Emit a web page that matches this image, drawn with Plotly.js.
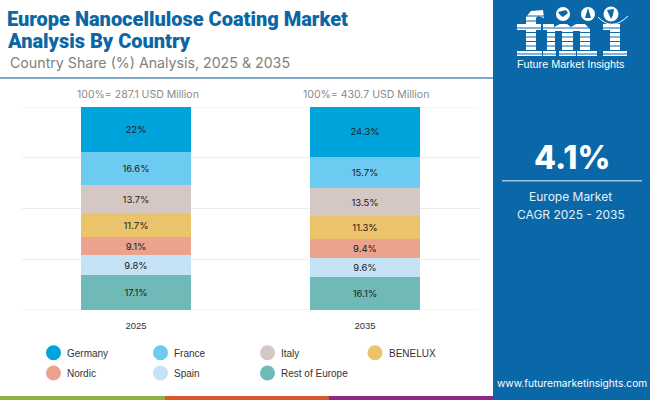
<!DOCTYPE html>
<html><head><meta charset="utf-8"><script src="https://cdn.plot.ly/plotly-3.0.1.min.js"></script>
<style>html,body{margin:0;padding:0;background:#fff}#c{width:650px;height:400px}</style></head>
<body><div id="c"></div>
<script>
const years = ['2025','2035'];
const countries = ['Germany','France','Italy','BENELUX','Nordic','Spain','Rest of Europe'];
const germany = [22,24.3];
const france = [16.6,15.7];
const italy = [13.7,13.5];
const benelux = [11.7,11.3];
const nordic = [9.1,9.4];
const spain = [9.8,9.6];
const rest = [17.1,16.1];
const colors = ['#00A4DC','#6DCBF2','#D5C8C4','#EBC36B','#EBA38E','#C5E3F5','#6FBAB6'];
const totals = ['100%= 287.1 USD Million','100%= 430.7 USD Million'];
const seriesValues = [germany,france,italy,benelux,nordic,spain,rest];
const SANS = 'Inter, "Open Sans", sans-serif';
const HEAVY = 'Roboto, Inter, sans-serif';
const ARIAL = '"Liberation Sans",Arial,sans-serif';
const fmt = v => v + '%';

const traces = [];
for (let i = seriesValues.length-1; i >= 0; i--) {
  traces.push({type:'bar',x:years,y:seriesValues[i],name:countries[i],width:0.48,showlegend:false,
    marker:{color:colors[i],line:{width:0}},text:seriesValues[i].map(fmt),textposition:'inside',insidetextanchor:'middle',
    textangle:0,constraintext:'none',textfont:{family:SANS,size:9.5,color:'#1a1a1a'},hoverinfo:'name+y'});
}

const px = (x)=>x/650, py=(y)=>1-y/400;
const P = (x0,y0,x1,y1,fill)=>({type:'rect',xref:'paper',yref:'paper',x0:px(x0),x1:px(x1),y0:py(y0),y1:py(y1),fillcolor:fill,line:{width:0},layer:'below'});
const shapes = [
  P(493,0,650,400,'#0A68A8'),
  P(0,396,165,400,'#8DB33F'),P(165,396,329,400,'#D9552B'),P(329,396,493,400,'#8A2C85'),
  P(0,77,493,79,'#7FA8C9'),
  P(502,180,642,181.5,'#9CC3E0')
];
[0,100].forEach(v=>shapes.push({type:'line',xref:'paper',yref:'y',x0:px(21.5),x1:px(479.5),y0:v,y1:v,line:{color:'#EDEDED',width:1},layer:'below'}));
function path(d,fill){return {type:'path',xref:'paper',yref:'paper',path:d,fillcolor:fill,line:{width:0},layer:'above'};}
const pt=(x,y)=>`${px(x).toFixed(5)},${py(y).toFixed(5)}`;
function poly(pts,fill){return path('M'+pts.map(p=>pt(p[0],p[1])).join('L')+'Z',fill);}
const W='#FFFFFF',B='#0A68A8';
shapes.push(poly([[517,24],[526,24],[526,17],[531,11],[543,10],[544,18],[538,16],[536,18],[536,24],[541,24],[541,30],[536,30],[536,50],[542,50],[542,56],[517,56],[517,50],[526,50],[526,30],[517,30]],W));
shapes.push(poly([[543,24],[554,24],[554,27],[560,24],[567,24],[571,27],[576,24],[585,24],[590,29],[590,50],[597,50],[597,56],[576,56],[576,50],[580,50],[580,31],[573,31],[573,50],[577,50],[577,56],[556,56],[556,50],[562,50],[562,31],[555,31],[555,50],[559,50],[559,56],[543,56],[543,50],[547,50],[547,30],[543,30]],W));
shapes.push(poly([[603,24],[620,24],[620,50],[627,50],[627,56],[603,56],[603,50],[610,50],[610,30],[603,30]],W));
[16,21].forEach(y=>shapes.push({type:'line',xref:'paper',yref:'paper',x0:px(524),x1:px(545),y0:py(y),y1:py(y),line:{color:B,width:1}}));
[28,32.5,37,41.5,46,50.5,54].forEach(y=>shapes.push({type:'line',xref:'paper',yref:'paper',x0:px(515),x1:px(629),y0:py(y),y1:py(y),line:{color:B,width:1}}));
const circle=(cx,cy,r,fill)=>({type:'circle',xref:'paper',yref:'paper',x0:px(cx-r),x1:px(cx+r),y0:py(cy+r),y1:py(cy-r),fillcolor:fill,line:{width:0}});
shapes.push(circle(563,14,7,W),circle(588,14,7,W),circle(611,14,7.5,W));
shapes.push(poly([[558,12],[566,10],[568,13],[563,17],[560,15]],B));
shapes.push(poly([[588,8],[591,18],[585,18]],B));
shapes.push(poly([[607,10],[614,9],[613,15],[611,19]],B));
shapes.push({type:'path',xref:'paper',yref:'paper',path:`M${pt(598,17)}Q${pt(612,32)},${pt(628,16)}`,line:{color:W,width:1}});

const ann=(x,y,text,size,color,anchor,extra)=>Object.assign({xref:'paper',yref:'paper',x:px(x),y:py(y),text,showarrow:false,xanchor:anchor||'left',yanchor:'middle',align:anchor||'left',font:{family:SANS,size,color}},extra||{});
const heavy=(size,color)=>({font:{family:HEAVY,size,color,weight:900}});
const annotations=[
  ann(4.5,19.5,'Europe Nanocellulose Coating Market',20,'#0B66A6','left',heavy(20,'#0B66A6')),
  ann(4.5,40.5,'Analysis By Country',20,'#0B66A6','left',heavy(20,'#0B66A6')),
  ann(7.5,63,'Country Share (%) Analysis, 2025 &amp; 2035',14.2,'#808080'),
  ann(137.5,94,totals[0],10.5,'#8a8a8a','center'),
  ann(366,94,totals[1],10.5,'#8a8a8a','center'),
  ann(571.5,157.5,'4.1%',32,'#FFFFFF','center',{font:{family:SANS,size:32,color:'#FFFFFF',weight:800}}),
  ann(570,197,'Europe Market',12,'#E4F0F8','center'),
  ann(571,214,'CAGR 2025 - 2035',12,'#E4F0F8','center'),
  ann(571,64,'Future Market Insights',10.8,'#FFFFFF','center',{font:{family:ARIAL,size:10.8,color:'#FFFFFF'}}),
  ann(572,383,'www.futuremarketinsights.com',10.2,'#FFFFFF','center')
];
const legendCols=[53.5,160.5,267.5,375], legendRows=[352.7,373];
countries.forEach((c,i)=>{
  const cx=legendCols[i<4?i:i-4], cy=legendRows[i<4?0:1];
  shapes.push(circle(cx,cy,7.5,colors[i]));
  annotations.push(ann(cx+11.5,cy+0.8,c,10,'#333','left',{font:{family:ARIAL,size:10,color:'#333'}}));
});

const layout={width:650,height:400,autosize:false,margin:{l:0,r:0,t:0,b:0,pad:0},
  paper_bgcolor:'#fff',plot_bgcolor:'#fff',barmode:'stack',bargap:0.52,showlegend:false,
  xaxis:{domain:[px(21.5),px(479.5)],type:'category',categoryorder:'array',categoryarray:years,tickfont:{family:ARIAL,size:9.5,color:'#333'},ticks:'',ticklabelstandoff:8,showline:false,showgrid:false,zeroline:false,automargin:false,fixedrange:true},
  yaxis:{domain:[py(310),py(107)],range:[0,100],tickvals:[0,25,50,75,100],showticklabels:false,showgrid:true,gridcolor:'#EDEDED',gridwidth:1,zeroline:false,ticks:'',automargin:false,fixedrange:true},
  shapes,annotations};
Plotly.newPlot('c',traces,layout,{displayModeBar:false,staticPlot:true});
</script></body></html>
